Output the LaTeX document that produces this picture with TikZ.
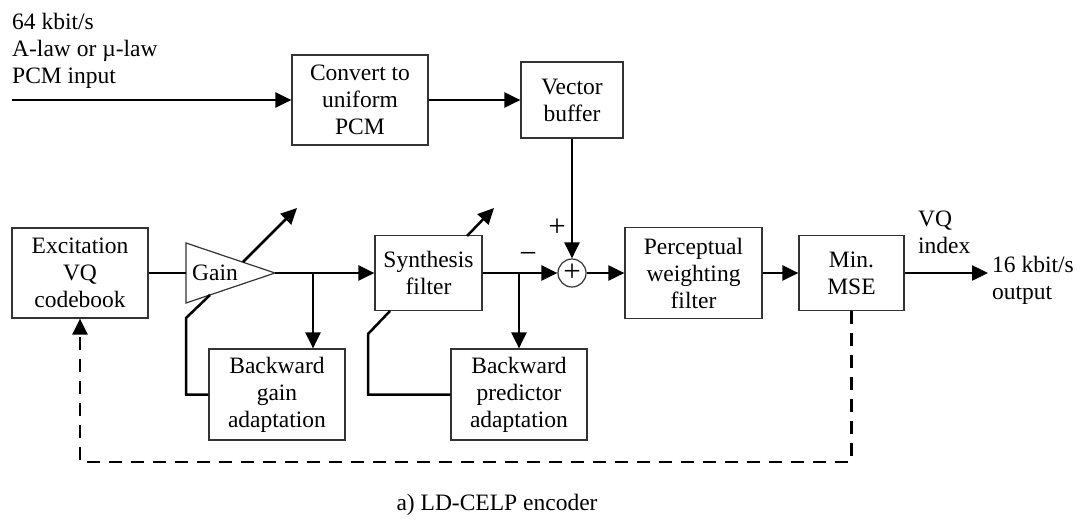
\documentclass[tikz,border=0pt]{standalone}
\usepackage{fontspec}
\setmainfont{Liberation Serif}
\usetikzlibrary{arrows.meta}
\begin{document}
\begin{tikzpicture}[x=1pt,y=-1pt,
  every node/.style={font=\fontsize{23.5}{27}\selectfont},
  box/.style={draw=black!80,line width=1.2pt,align=center,inner sep=0pt},
  conn/.style={line width=2.5pt,black},
  arr/.style={conn,-{Triangle[length=16pt,width=15pt]}},
  dsh/.style={conn,dash pattern=on 13pt off 9pt,-{Triangle[length=16pt,width=15pt]}},
  thin/.style={draw=black!80,line width=1.2pt},
  sign/.style={inner sep=0pt,font=\fontsize{31}{31}\selectfont},
  lbl/.style={inner sep=0pt,align=left}]
\useasboundingbox (0,0) rectangle (1085,523);

% boxes
\node[box,minimum width=136pt,minimum height=90pt] (conv) at (360,100) {Convert to\\uniform\\PCM};
\node[box,minimum width=102pt,minimum height=76pt] (vbuf) at (572,100) {Vector\\buffer};
\node[box,minimum width=136pt,minimum height=90pt] (exc) at (80,273) {Excitation\\VQ\\codebook};
\node[box,minimum width=107pt,minimum height=75pt] (syn) at (428.5,273) {Synthesis\\filter};
\node[box,minimum width=136pt,minimum height=91pt] (bg) at (277,394.5) {Backward\\gain\\adaptation};
\node[box,minimum width=136pt,minimum height=91pt] (bp) at (519,394.5) {Backward\\predictor\\adaptation};
\node[box,minimum width=137pt,minimum height=91pt] (pw) at (693.5,273) {Perceptual\\weighting\\filter};
\node[box,minimum width=105pt,minimum height=75pt] (mse) at (851.5,273) {Min.\\MSE};
\node[box,circle,minimum size=28pt] (sum) at (572,273) {};
\node[sign] (sumplus) at (572,273) {+};

% gain triangle
\coordinate (gt) at (186,243);
\coordinate (gb) at (186,303);
\coordinate (gtip) at (275,273);
\draw[thin] (gt) -- (gb) -- (gtip) -- cycle;
\node[inner sep=0pt] (gainlbl) at (215,273) {Gain};

% input text
\node[lbl,anchor=base west] (intext) at (12,83) {64 kbit/s\\A-law or µ-law\\PCM input};
\coordinate (in) at (12,100);
\draw[arr] (in) -- (conv.west);
\draw[arr] (conv.east) -- (vbuf.west);
\draw[arr] (vbuf.south) -- (sum.north);

% main path
\draw[conn] (exc.east) -- (exc.east -| gt);
\coordinate (br1) at (313,273);
\draw[arr] (gtip) -- (syn.west);
\draw[arr] (br1) -- (br1 |- bg.north);
\draw[arr] (syn.east) -- (sum.west);
\coordinate (br2) at (519,273);
\draw[arr] (br2) -- (bp.north);
\draw[arr] (sum.east) -- (pw.west);
\draw[arr] (pw.east) -- (mse.west);
\coordinate (out) at (988,273);
\draw[arr] (mse.east) -- (out);

% adaptation arrows
\coordinate (gd1) at (243,262);
\coordinate (gd2) at (297,208);
\draw[arr] (gd1) -- (gd2);
\coordinate (sd1) at (467,236);
\coordinate (sd2) at (494,208);
\draw[arr] (sd1) -- (sd2);

% feedback lines
\coordinate (gf1) at (186,318);
\coordinate (gf2) at (210,295);
\draw[conn] (bg.west) -- (bg.west -| gf1) -- (gf1) -- (gf2);
\coordinate (sf1) at (368,334);
\coordinate (sf2) at (390,311);
\draw[conn] (bp.west) -- (bp.west -| sf1) -- (sf1) -- (sf2);

% dashed feedback
\coordinate (d1) at (851.5,462);
\coordinate (d2) at (80,462);
\draw[dsh] (mse.south) -- (d1) -- (d2) -- (exc.south);

% signs and labels
\node[sign] (plus) at (557,228) {+};
\node[sign] (minus) at (528,258) {\char"2212};
\node[lbl,anchor=west] (vq) at (918,232) {VQ\\index};
\node[lbl,anchor=west] (outtxt) at (992,280) {16 kbit/s\\output};
\node[inner sep=0pt] (cap) at (497,505) {a) LD-CELP encoder};
\end{tikzpicture}
\end{document}
